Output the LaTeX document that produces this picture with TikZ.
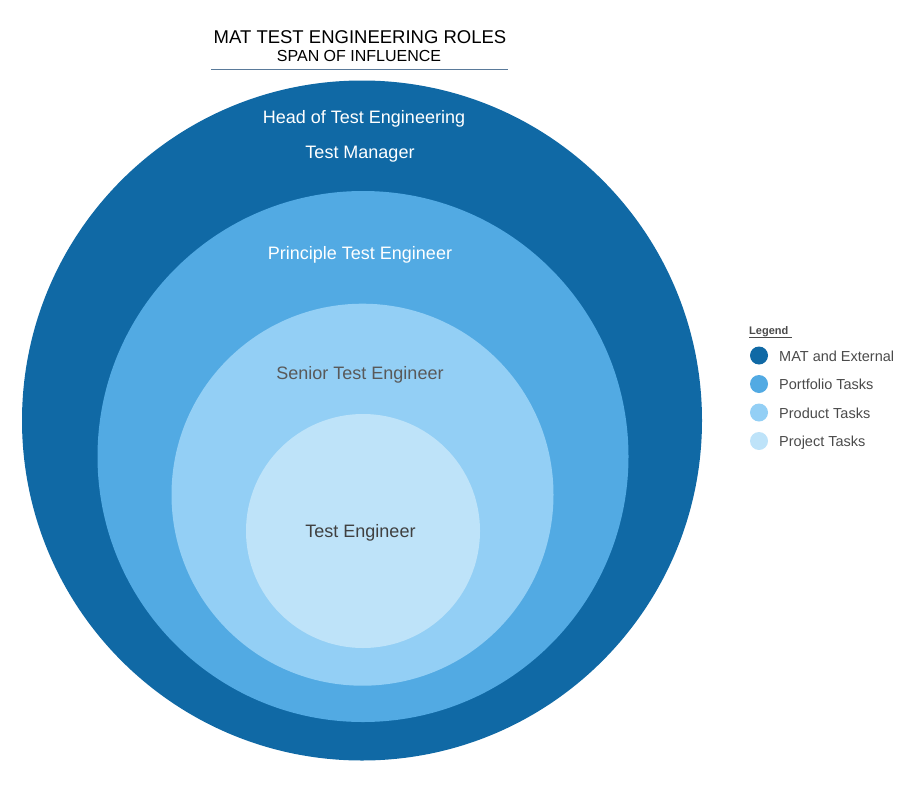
\documentclass[tikz,border=0pt]{standalone}
\usepackage{fontspec}
\setmainfont{Liberation Sans}
\definecolor{ringA}{HTML}{1069A5}
\definecolor{ringB}{HTML}{52AAE3}
\definecolor{ringC}{HTML}{93CFF5}
\definecolor{ringD}{HTML}{BEE3F9}
\definecolor{rule}{HTML}{5A7A9A}
\definecolor{greytext}{HTML}{595959}
\definecolor{darktext}{HTML}{404040}
\definecolor{legendtext}{HTML}{4A4A4A}
\tikzset{
  role/.style={anchor=base, inner sep=0pt, font=\fontsize{18}{20}\selectfont},
  legdot/.style={circle, minimum size=18pt, inner sep=0pt},
  legtext/.style={anchor=base west, inner sep=0pt, text=legendtext, font=\fontsize{14.5}{16}\selectfont},
}
\begin{document}
\begin{tikzpicture}[x=1pt,y=-1pt]
\useasboundingbox (0,0) rectangle (923,784);
% nested spheres of influence
\fill[ringA] (362,420.5) circle (340);
\fill[ringB] (363,456.5) circle (265.5);
\fill[ringC] (362.5,494.7) circle (191);
\fill[ringD] (363,531) circle (117);
% title
\node[anchor=base, inner sep=0pt, font=\fontsize{18.5}{20}\selectfont] (title) at (360,44) {MAT TEST ENGINEERING ROLES};
\node[anchor=base, inner sep=0pt, font=\fontsize{16}{18}\selectfont] (subtitle) at (359,62) {SPAN OF INFLUENCE};
\draw[rule, line width=0.8pt] (211,69) coordinate (ruleL) -- (508,69) coordinate (ruleR);
% role labels
\node[role, text=white] (head) at (364,123.3) {Head of Test Engineering};
\node[role, text=white] (mgr) at (360,158.3) {Test Manager};
\node[role, text=white] (pte) at (360,259) {Principle Test Engineer};
\node[role, text=greytext] (ste) at (360,379) {Senior Test Engineer};
\node[role, text=darktext] (te) at (360.5,537) {Test Engineer};
% legend
\node[anchor=base west, inner sep=0pt, text=legendtext, font=\bfseries\fontsize{11}{12}\selectfont] (legend) at (749,334.3) {Legend};
\draw[legendtext, line width=0.6pt] (legend.base west) ++(0,3.2) -- ++(42.5,0);
\node[legdot, fill=ringA] (d1) at (759,355.5) {};
\node[legdot, fill=ringB] (d2) at (759,384) {};
\node[legdot, fill=ringC] (d3) at (759,412.5) {};
\node[legdot, fill=ringD] (d4) at (759,441) {};
\node[legtext] (l1) at (779,361) {MAT and External};
\node[legtext] (l2) at (779,389.5) {Portfolio Tasks};
\node[legtext] (l3) at (779,418) {Product Tasks};
\node[legtext] (l4) at (779,446.5) {Project Tasks};
\end{tikzpicture}
\end{document}
